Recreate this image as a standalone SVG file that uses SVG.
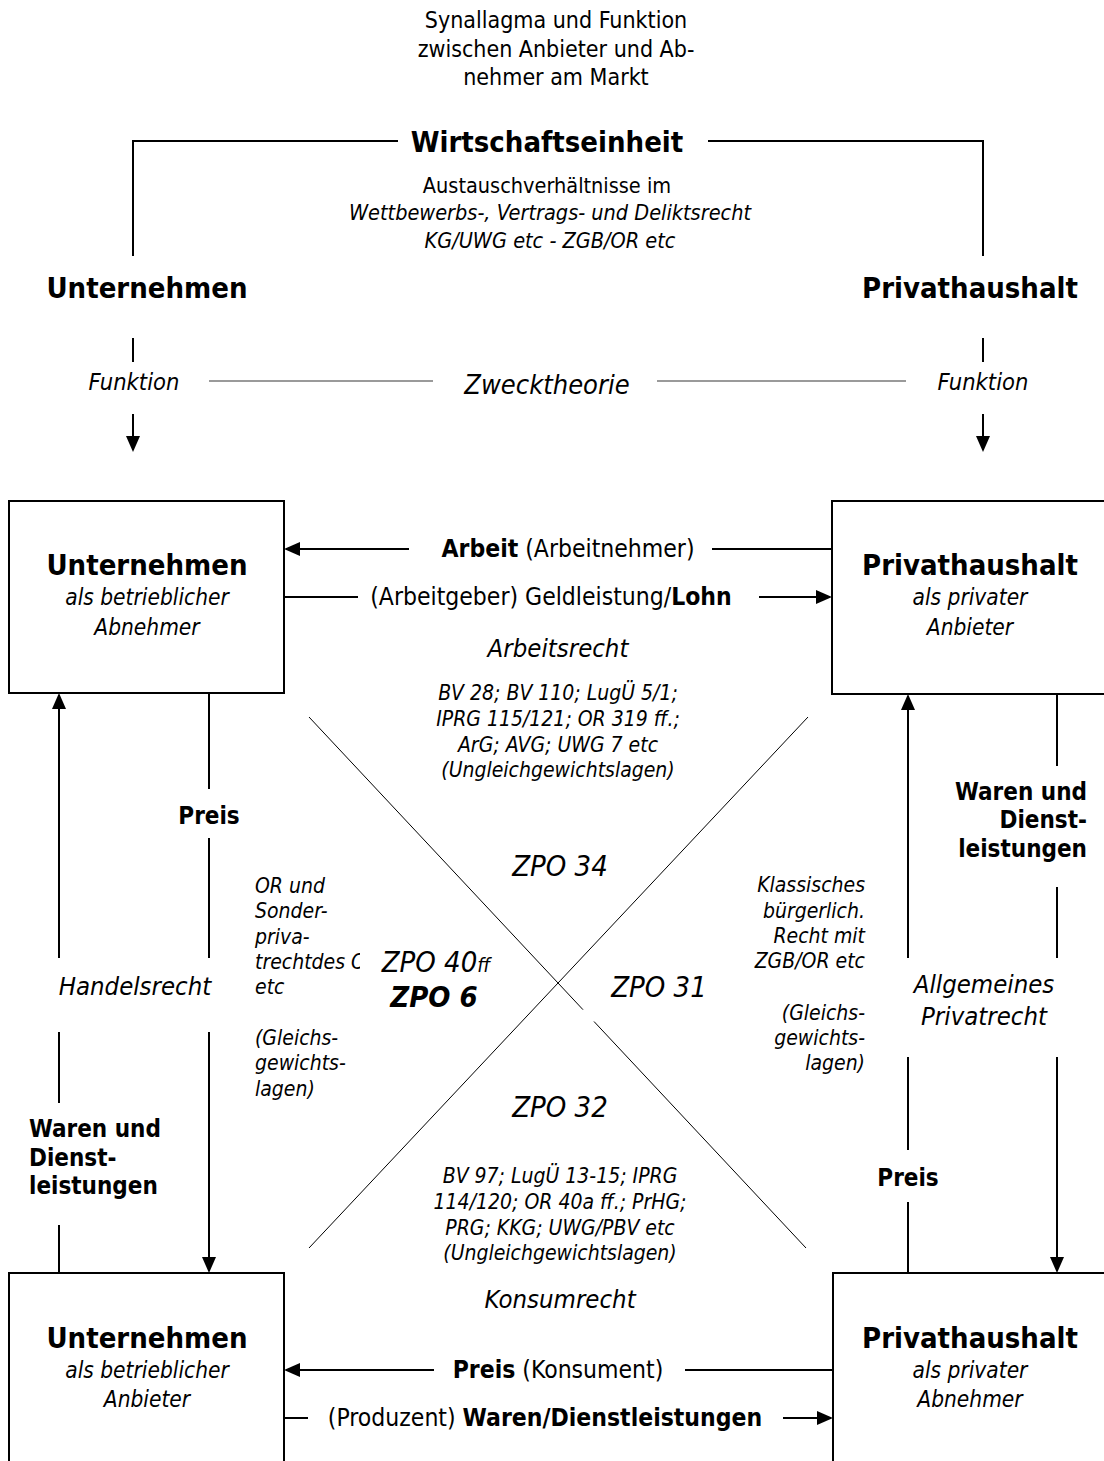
<svg xmlns="http://www.w3.org/2000/svg" width="1104" height="1461" viewBox="0 0 1104 1461">
<style>
text{font-family:"DejaVu Sans Condensed","Liberation Sans",sans-serif;fill:#000}
.m{text-anchor:middle}.e{text-anchor:end}
.b{font-weight:bold}.i{font-style:italic}
.t{font-size:23px}.h{font-size:29px;font-weight:bold}
.sub{font-size:22.5px;font-style:italic}
.lab{font-size:24.5px}
.law{font-size:25.5px;font-style:italic}
.sm{font-size:21px;font-style:italic}
.zpo{font-size:29px;font-style:italic}
.bl{font-size:24px;font-weight:bold}
.ln{stroke:#000;stroke-width:2;fill:none}
.dg{stroke:#000;stroke-width:1;fill:none}
.gr{stroke:#7a7a7a;stroke-width:1.6;fill:none}
.box{fill:#fff;stroke:#000;stroke-width:2}
</style>
<defs>
<marker id="ah" markerUnits="userSpaceOnUse" markerWidth="16" markerHeight="14" refX="14" refY="7" orient="auto">
<path d="M0,0 L16,7 L0,14 Z" fill="#000"/>
</marker>
<clipPath id="clipL"><rect x="240" y="940" width="120" height="40"/></clipPath>
<clipPath id="clipB"><rect x="400" y="1240" width="320" height="24"/></clipPath>
</defs>

<g id="title">
<text class="t m" x="556" y="28">Synallagma und Funktion</text>
<text class="t m" x="556" y="57">zwischen Anbieter und Ab-</text>
<text class="t m" x="556" y="85">nehmer am Markt</text>
</g>

<g id="connectors">
<path class="ln" d="M133,256 V141 H398 M708,141 H983 V256"/>
<path class="ln" d="M133,338 V362 M983,338 V362"/>
<path class="ln" d="M133,414 V450" marker-end="url(#ah)"/>
<path class="ln" d="M983,414 V450" marker-end="url(#ah)"/>
<path class="gr" d="M209,381 H433 M657,381 H906"/>
<path class="ln" d="M409,549 H286" marker-end="url(#ah)"/>
<path class="ln" d="M712,549 H832"/>
<path class="ln" d="M284,597 H358"/>
<path class="ln" d="M759,597 H830" marker-end="url(#ah)"/>
<path class="ln" d="M59,958 V695" marker-end="url(#ah)"/>
<path class="ln" d="M59,1032 V1103 M59,1225 V1273"/>
<path class="ln" d="M209,693 V789 M209,838 V958"/>
<path class="ln" d="M209,1032 V1271" marker-end="url(#ah)"/>
<path class="ln" d="M908,958 V696" marker-end="url(#ah)"/>
<path class="ln" d="M908,1057 V1150 M908,1202 V1273"/>
<path class="ln" d="M1057,694 V766 M1057,887 V958"/>
<path class="ln" d="M1057,1057 V1271" marker-end="url(#ah)"/>
<path class="ln" d="M434,1370 H286" marker-end="url(#ah)"/>
<path class="ln" d="M685,1370 H833"/>
<path class="ln" d="M284,1418 H308"/>
<path class="ln" d="M783,1418 H831" marker-end="url(#ah)"/>
<path class="dg" d="M309,1248 L808,717"/>
<path class="dg" d="M309,717 L583,1009.7 M594,1021.5 L806,1248"/>
</g>

<g id="wirtschaftseinheit">
<text class="h m" x="547" y="152">Wirtschaftseinheit</text>
<text class="m" x="547" y="193" font-size="21.5">Austauschverhältnisse im</text>
<text class="m i" x="550" y="220" font-size="21.5">Wettbewerbs-, Vertrags- und Deliktsrecht</text>
<text class="m i" x="550" y="248" font-size="21.5">KG/UWG etc - ZGB/OR etc</text>
</g>

<g id="unternehmen-top"><text class="h m" x="147" y="298">Unternehmen</text></g>
<g id="privathaushalt-top"><text class="h m" x="970" y="298">Privathaushalt</text></g>

<g id="zwecktheorie">
<text class="i m" x="134" y="390" font-size="23.5">Funktion</text>
<text class="i m" x="983" y="390" font-size="23.5">Funktion</text>
<text class="i m" x="547" y="394" font-size="27">Zwecktheorie</text>
</g>

<g id="box-unternehmen-abnehmer">
<rect class="box" x="9" y="501" width="275" height="192"/>
<text class="h m" x="147" y="575">Unternehmen</text>
<text class="sub m" x="147" y="605">als betrieblicher</text>
<text class="sub m" x="147" y="635">Abnehmer</text>
</g>

<g id="box-privathaushalt-anbieter">
<rect class="box" x="832" y="501" width="290" height="193"/>
<text class="h m" x="970" y="575">Privathaushalt</text>
<text class="sub m" x="970" y="605">als privater</text>
<text class="sub m" x="970" y="635">Anbieter</text>
</g>

<g id="box-unternehmen-anbieter">
<rect class="box" x="9" y="1273" width="275" height="220"/>
<text class="h m" x="147" y="1348">Unternehmen</text>
<text class="sub m" x="147" y="1378">als betrieblicher</text>
<text class="sub m" x="147" y="1407">Anbieter</text>
</g>

<g id="box-privathaushalt-abnehmer">
<rect class="box" x="833" y="1273" width="290" height="220"/>
<text class="h m" x="970" y="1348">Privathaushalt</text>
<text class="sub m" x="970" y="1378">als privater</text>
<text class="sub m" x="970" y="1407">Abnehmer</text>
</g>

<g id="labels-arbeit">
<text class="lab m" x="568" y="557"><tspan font-weight="bold">Arbeit</tspan> (Arbeitnehmer)</text>
<text class="lab m" x="551" y="605">(Arbeitgeber) Geldleistung/<tspan font-weight="bold">Lohn</tspan></text>
</g>

<g id="arbeitsrecht">
<text class="law m" x="558" y="657">Arbeitsrecht</text>
<text class="sm m" x="558" y="700">BV 28; BV 110; LugÜ 5/1;</text>
<text class="sm m" x="558" y="726">IPRG 115/121; OR 319 ff.;</text>
<text class="sm m" x="558" y="752">ArG; AVG; UWG 7 etc</text>
<text class="sm m" x="558" y="777">(Ungleichgewichtslagen)</text>
</g>

<g id="zpo">
<text class="zpo m" x="560" y="876">ZPO 34</text>
<text class="zpo m" x="436" y="972">ZPO 40<tspan font-size="20">ff</tspan></text>
<text class="zpo m b" x="434" y="1007">ZPO 6</text>
<text class="zpo m" x="659" y="997">ZPO 31</text>
<text class="zpo m" x="560" y="1117">ZPO 32</text>
</g>

<g id="handelsrecht-notes">
<text class="sm" x="255" y="893">OR und</text>
<text class="sm" x="255" y="918">Sonder-</text>
<text class="sm" x="255" y="944">priva-</text>
<text class="sm" x="255" y="969" clip-path="url(#clipL)">trechtdes O</text>
<text class="sm" x="255" y="994">etc</text>
<text class="sm" x="255" y="1045">(Gleichs-</text>
<text class="sm" x="255" y="1070">gewichts-</text>
<text class="sm" x="255" y="1096">lagen)</text>
</g>

<g id="privatrecht-notes">
<text class="sm e" x="865" y="892">Klassisches</text>
<text class="sm e" x="865" y="918">bürgerlich.</text>
<text class="sm e" x="865" y="943">Recht mit</text>
<text class="sm e" x="865" y="968">ZGB/OR etc</text>
<text class="sm e" x="865" y="1020">(Gleichs-</text>
<text class="sm e" x="865" y="1045">gewichts-</text>
<text class="sm e" x="865" y="1070">lagen)</text>
</g>

<g id="side-labels">
<text class="bl m" x="209" y="824">Preis</text>
<text class="bl m" x="908" y="1186">Preis</text>
<text class="law m" x="135" y="995">Handelsrecht</text>
<text class="law m" x="984" y="993">Allgemeines</text>
<text class="law m" x="984" y="1025">Privatrecht</text>
<text class="bl e" x="1087" y="800">Waren und</text>
<text class="bl e" x="1087" y="828">Dienst-</text>
<text class="bl e" x="1087" y="857">leistungen</text>
<text class="bl" x="29" y="1137">Waren und</text>
<text class="bl" x="29" y="1166">Dienst-</text>
<text class="bl" x="29" y="1194">leistungen</text>
</g>

<g id="konsumrecht">
<text class="sm m" x="560" y="1183">BV 97; LugÜ 13-15; IPRG</text>
<text class="sm m" x="560" y="1209">114/120; OR 40a ff.; PrHG;</text>
<text class="sm m" x="560" y="1235">PRG; KKG; UWG/PBV etc</text>
<text class="sm m" x="560" y="1260" clip-path="url(#clipB)">(Ungleichgewichtslagen)</text>
<text class="law m" x="560" y="1308">Konsumrecht</text>
</g>

<g id="labels-konsum">
<text class="lab m" x="558" y="1378"><tspan font-weight="bold">Preis</tspan> (Konsument)</text>
<text class="lab m" x="545" y="1426">(Produzent) <tspan font-weight="bold">Waren/Dienstleistungen</tspan></text>
</g>
</svg>
